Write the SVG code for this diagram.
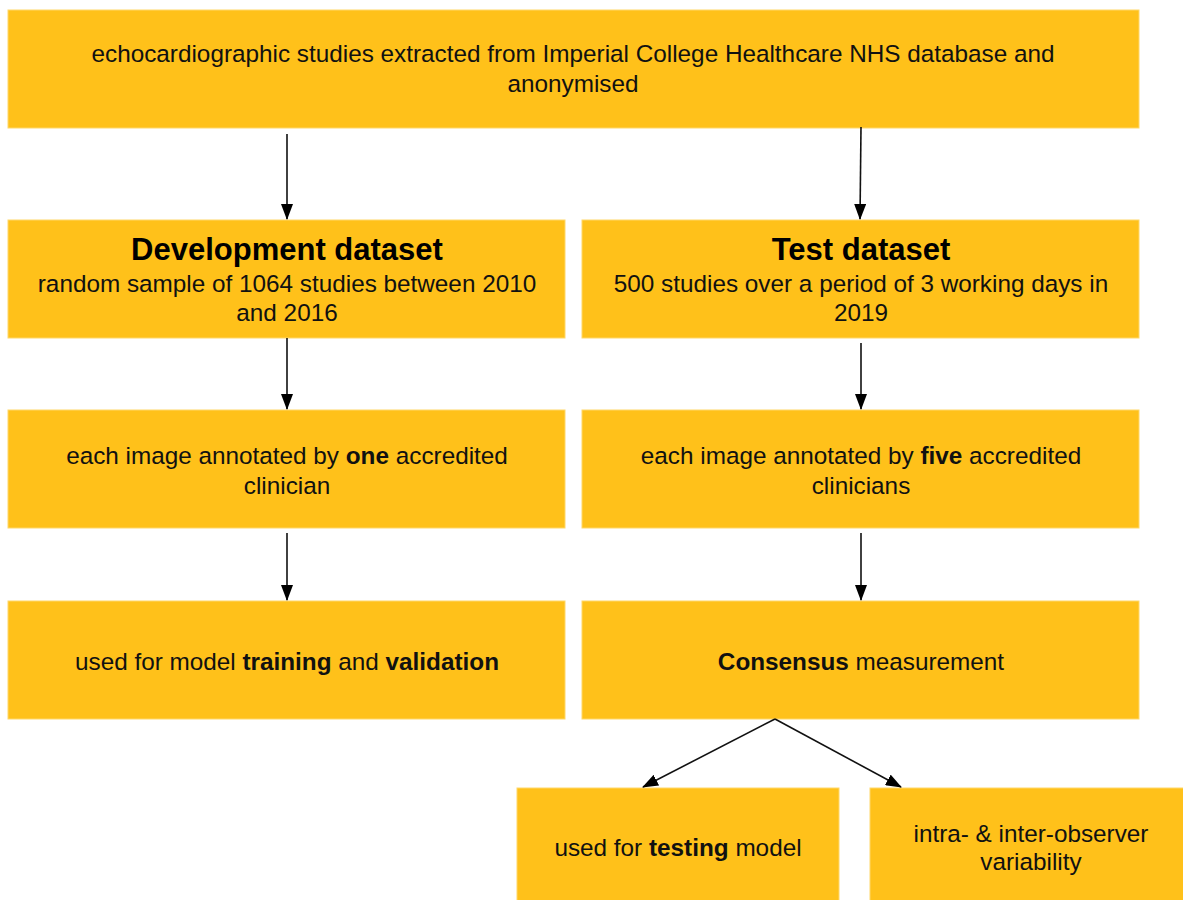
<svg xmlns="http://www.w3.org/2000/svg" width="1183" height="900" viewBox="0 0 1183 900">
<defs>
<marker id="ah" markerWidth="16" markerHeight="12" refX="15" refY="6" orient="auto" markerUnits="userSpaceOnUse" viewBox="0 0 16 12">
<path d="M0,0 L16,6 L0,12 Z" fill="#000"/>
</marker>
<style>
.box{fill:#FFC11A;stroke:#FFD769;stroke-width:1}
.t{font-family:"Liberation Sans",Arial,sans-serif;font-size:24.3px;fill:#111;text-anchor:middle}
.h{font-family:"Liberation Sans",Arial,sans-serif;font-size:31px;font-weight:bold;fill:#000;text-anchor:middle}
.b{font-weight:bold}
.c{stroke:#111;stroke-width:1.6;fill:none;marker-end:url(#ah)}
</style>
</defs>
<rect width="1183" height="900" fill="#fff"/>
<g id="n-top">
<rect class="box" x="8" y="10" width="1131" height="118"/>
<text class="t" x="573" y="62">echocardiographic studies extracted from Imperial College Healthcare NHS database and</text>
<text class="t" x="573" y="92">anonymised</text>
</g>
<g id="n-dev">
<rect class="box" x="8" y="220" width="557" height="118"/>
<text class="h" x="287" y="260">Development dataset</text>
<text class="t" x="287" y="292">random sample of 1064 studies between 2010</text>
<text class="t" x="287" y="321">and 2016</text>
</g>
<g id="n-test">
<rect class="box" x="582" y="220" width="557" height="118"/>
<text class="h" x="861" y="260">Test dataset</text>
<text class="t" x="861" y="292">500 studies over a period of 3 working days in</text>
<text class="t" x="861" y="321">2019</text>
</g>
<g id="n-dev-annot">
<rect class="box" x="8" y="410" width="557" height="118"/>
<text class="t" x="287" y="464">each image annotated by <tspan class="b">one</tspan> accredited</text>
<text class="t" x="287" y="494">clinician</text>
</g>
<g id="n-test-annot">
<rect class="box" x="582" y="410" width="557" height="118"/>
<text class="t" x="861" y="464">each image annotated by <tspan class="b">five</tspan> accredited</text>
<text class="t" x="861" y="494">clinicians</text>
</g>
<g id="n-train">
<rect class="box" x="8" y="601" width="557" height="118"/>
<text class="t" x="287" y="670">used for model <tspan class="b">training</tspan> and <tspan class="b">validation</tspan></text>
</g>
<g id="n-consensus">
<rect class="box" x="582" y="601" width="557" height="118"/>
<text class="t" x="861" y="670"><tspan class="b">Consensus</tspan> measurement</text>
</g>
<g id="n-testing">
<rect class="box" x="517" y="788" width="322" height="120"/>
<text class="t" x="678" y="856">used for <tspan class="b">testing</tspan> model</text>
</g>
<g id="n-variability">
<rect class="box" x="870" y="788" width="320" height="120"/>
<text class="t" x="1031" y="842">intra- &amp; inter-observer</text>
<text class="t" x="1031" y="870">variability</text>
</g>
<g id="connectors">
<line class="c" x1="287" y1="134" x2="287" y2="219"/>
<line class="c" x1="861" y1="127" x2="860" y2="219"/>
<line class="c" x1="287" y1="338" x2="287" y2="409"/>
<line class="c" x1="861" y1="343" x2="861" y2="409"/>
<line class="c" x1="287" y1="533" x2="287" y2="600"/>
<line class="c" x1="861" y1="533" x2="861" y2="600"/>
<line class="c" x1="775" y1="719" x2="643" y2="787"/>
<line class="c" x1="775" y1="719" x2="901" y2="787"/>
</g>
</svg>
